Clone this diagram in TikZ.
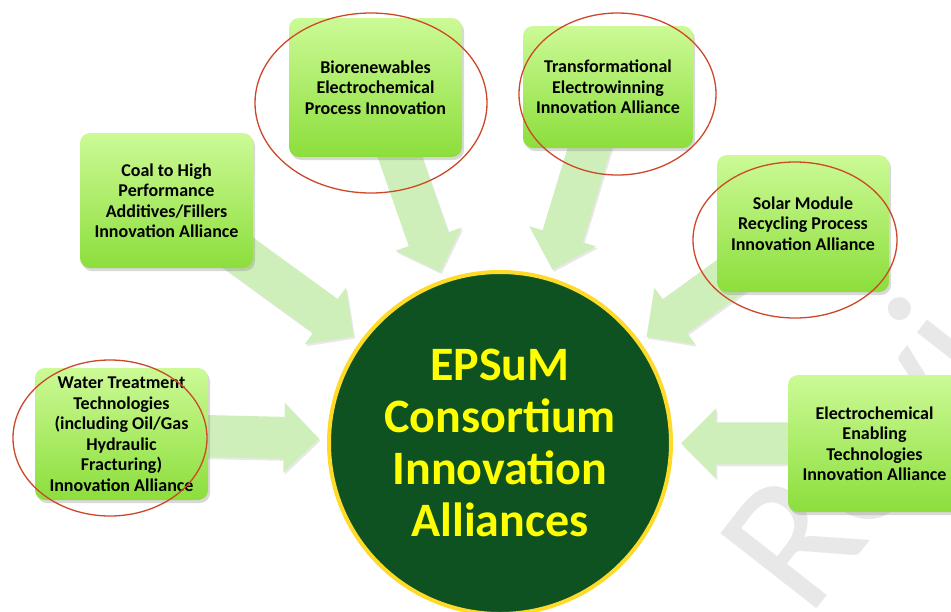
\documentclass[tikz,border=0pt]{standalone}
\usepackage{fontspec}
\setmainfont{Carlito}
\usetikzlibrary{calc,shadows,backgrounds,shapes.geometric}
\pgfdeclarelayer{bg}
\pgfsetlayers{bg,background,main}
\definecolor{boxtop}{RGB}{204,250,150}
\definecolor{boxbot}{RGB}{140,222,60}
\definecolor{arrowfill}{RGB}{207,239,186}
\definecolor{hubgreen}{RGB}{14,82,34}
\definecolor{hubring}{RGB}{255,218,40}
\definecolor{hubtext}{RGB}{255,255,0}
\definecolor{ringred}{RGB}{205,72,40}
\definecolor{wmgray}{RGB}{232,232,232}
\tikzset{
  alliance/.style={rectangle, rounded corners=10pt, top color=boxtop, bottom color=boxbot,
    minimum width=173pt, minimum height=137pt, align=center, inner sep=0pt,
    font=\bfseries\fontsize{18}{20.5}\selectfont, text=black,
    drop shadow={opacity=0.3, shadow xshift=2pt, shadow yshift=-3pt}},
  hubnode/.style={circle, minimum size=342pt, fill=hubgreen, draw=hubring, line width=4pt,
    align=center, inner sep=0pt, text=hubtext, font=\bfseries\fontsize{48}{52}\selectfont},
  redring/.style={ellipse, draw=ringred, line width=1.3pt, inner sep=0pt},
  arrowbody/.style={fill=arrowfill, drop shadow={opacity=0.18, shadow xshift=1.5pt, shadow yshift=-2pt}},
}
\newcommand\alliancearrow[2]{%
  \coordinate (#1-tip) at ($(#2.center)!181pt!(#1.center)$);
  \coordinate (#1-neck) at ($(#2.center)!216pt!(#1.center)$);
  \path[arrowbody] (#1-tip) -- ($(#1-neck)!35pt!90:(#1.center)$) -- ($(#1-neck)!21pt!90:(#1.center)$)
    -- ($(#1.center)!21pt!-90:(#1-neck)$) -- ($(#1.center)!21pt!90:(#1-neck)$)
    -- ($(#1-neck)!21pt!-90:(#1.center)$) -- ($(#1-neck)!35pt!-90:(#1.center)$) -- cycle;}
\begin{document}
\begin{tikzpicture}[x=1pt, y=-1pt]
\useasboundingbox (0,0) rectangle (951,611);
\begin{pgfonlayer}{bg}
  \fill[white] (0,0) rectangle (951,611);
  \begin{scope}
    \clip (0,0) rectangle (951,611);
    \node[rotate=52, anchor=base west, text=wmgray, font=\fontsize{190}{190}\selectfont, inner sep=0pt] (wm) at (808,620) {Review};
  \end{scope}
\end{pgfonlayer}

\node[hubnode] (hub) at (500,443) {EPSuM\\Consortium\\Innovation\\Alliances};

\node[alliance, minimum width=173pt, minimum height=139pt] (bio) at (375.5,87.5) {Biorenewables\\Electrochemical\\Process Innovation};
\node[alliance, minimum width=170pt, minimum height=122pt] (trans) at (608,87) {Transformational\\Electrowinning\\Innovation Alliance};
\node[alliance, minimum width=173pt, minimum height=135pt] (coal) at (166.5,200.5) {Coal to High\\Performance\\Additives/Fillers\\Innovation Alliance};
\node[alliance, minimum width=172pt, minimum height=137pt] (solar) at (803,223.5) {Solar Module\\Recycling Process\\Innovation Alliance};
\node[alliance, minimum width=173pt, minimum height=132pt] (water) at (121.5,434) {Water Treatment\\Technologies\\(including Oil/Gas\\Hydraulic\\Fracturing)\\Innovation Alliance};
\node[alliance, minimum width=173pt, minimum height=137pt] (electro) at (874.5,443.5) {Electrochemical\\Enabling\\Technologies\\Innovation Alliance};

\begin{scope}[on background layer]
  \alliancearrow{bio}{hub}
  \alliancearrow{trans}{hub}
  \alliancearrow{coal}{hub}
  \alliancearrow{solar}{hub}
  \alliancearrow{water}{hub}
  \alliancearrow{electro}{hub}
\end{scope}

\node[redring, minimum width=232pt, minimum height=180pt] (ringbio) at (371,103) {};
\node[redring, minimum width=197pt, minimum height=162pt] (ringtrans) at (617.5,94) {};
\node[redring, minimum width=204pt, minimum height=156pt] (ringsolar) at (795,240) {};
\node[redring, minimum width=194pt, minimum height=156pt] (ringwater) at (110,438) {};
\end{tikzpicture}
\end{document}
